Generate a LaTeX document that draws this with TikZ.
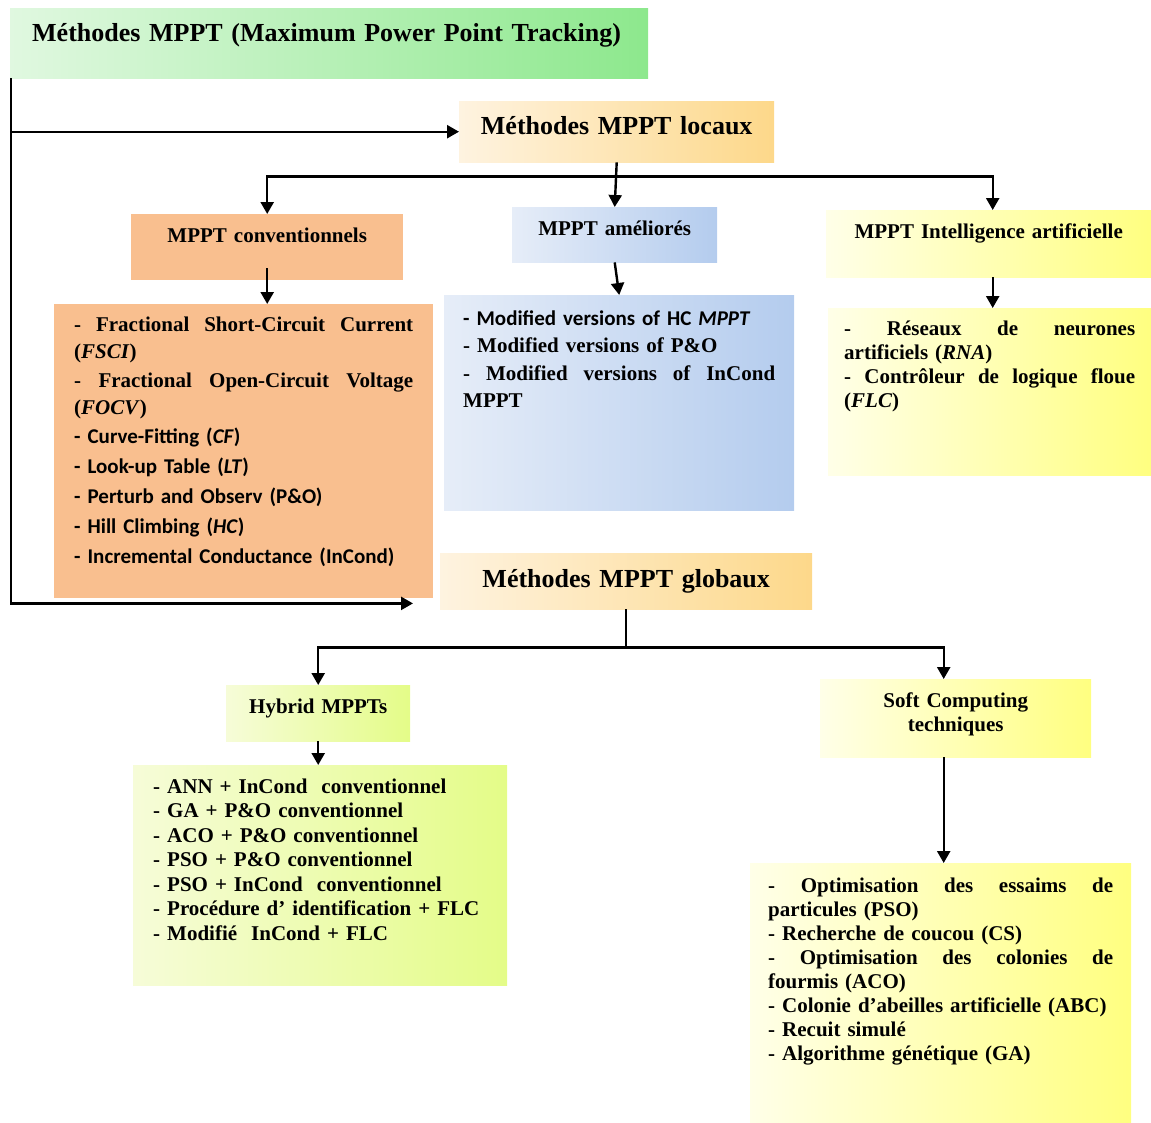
\documentclass[tikz,border=0pt]{standalone}
\usepackage{fontspec}
\setmainfont{Liberation Serif}
\newfontfamily\calfont{Carlito}
\usetikzlibrary{arrows.meta}

\definecolor{gL}{HTML}{E0F8E0}\definecolor{gR}{HTML}{8DE88D}
\definecolor{oL}{HTML}{FEF3E0}\definecolor{oR}{HTML}{FDD88A}
\definecolor{peach}{HTML}{F9BF8F}
\definecolor{bL}{HTML}{E6EDF8}\definecolor{bR}{HTML}{B4CCEE}
\definecolor{yL}{HTML}{FFFFE8}\definecolor{yR}{HTML}{FFFF80}
\definecolor{hL}{HTML}{F6FCD8}\definecolor{hR}{HTML}{E4FC88}

% justified line (spaces stretch to the full text width)
\newcommand\jl[1]{\makebox[\hsize][s]{\spaceskip=0.25em plus 1fil\relax#1}}

\begin{document}
\begin{tikzpicture}[x=1pt,y=-1pt,
  box/.style={anchor=north west,inner ysep=0pt,font=\fontsize{21}{27}\selectfont\bfseries},
  big/.style={font=\fontsize{26}{30}\selectfont\bfseries},
  conn/.style={line width=2.4pt},
  arr/.style={conn,-{Triangle[length=12pt,width=13pt]}}]
\useasboundingbox (0,0) rectangle (1151,1122);

% top level
\node[box,big,left color=gL,right color=gR,text width=594pt,inner xsep=22pt,
  text height=33pt,text depth=37pt,align=left] (title) at (10,8)
  {Méthodes MPPT (Maximum Power Point Tracking)};
\node[box,big,left color=oL,right color=oR,text width=295pt,inner xsep=10pt,
  text height=33pt,text depth=28pt,align=center] (locaux) at (459,101)
  {Méthodes MPPT locaux};
\node[box,big,left color=oL,right color=oR,text width=352pt,inner xsep=10pt,
  text height=34pt,text depth=22pt,align=center] (globaux) at (440,553)
  {Méthodes MPPT globaux};

% local families
\node[box,fill=peach,text width=252pt,inner xsep=10pt,
  text height=28pt,text depth=38pt,align=center] (convh) at (131,214)
  {MPPT conventionnels};
\node[box,left color=bL,right color=bR,text width=189pt,inner xsep=8pt,
  text height=28pt,text depth=27pt,align=center] (amelh) at (512,207)
  {MPPT améliorés};
\node[box,left color=yL,right color=yR,text width=309pt,inner xsep=8pt,
  text height=28pt,text depth=39pt,align=center] (iah) at (826,210)
  {MPPT Intelligence artificielle};

\node[box,fill=peach,text width=339pt,inner xsep=20pt,
  text height=27pt,text depth=267pt,align=left] (convb) at (54,304)
  {\jl{- Fractional Short-Circuit Current}\\
   (\textit{FSCI})\\[2pt]
   \jl{- Fractional Open-Circuit Voltage}\\
   (\textit{FOCV})\\[2pt]
   {\calfont - Curve-Fitting (\textit{CF})}\\[3pt]
   {\calfont - Look-up Table (\textit{LT})}\\[3pt]
   {\calfont - Perturb and Observ (P\&O)}\\[3pt]
   {\calfont - Hill Climbing (\textit{HC})}\\[3pt]
   {\calfont - Incremental Conductance (InCond)}};
\node[box,left color=bL,right color=bR,text width=312pt,inner xsep=19pt,
  text height=30pt,text depth=185pt,align=left] (amelb) at (444,295)
  {{\calfont - Modified versions of HC \textit{MPPT}}\\[0.5pt]
   - Modified versions of P\&O\\[0.5pt]
   \jl{- Modified versions of InCond}\\[0.5pt]
   MPPT};
\node[box,left color=yL,right color=yR,text width=291pt,inner xsep=16pt,
  text height=27pt,text depth=140pt,align=left,
  font=\fontsize{21}{24}\selectfont\bfseries] (iab) at (828,308)
  {\jl{- Réseaux de neurones}\\
   artificiels (\textit{RNA})\\
   \jl{- Contrôleur de logique floue}\\
   (\textit{FLC})};

% global families
\node[box,left color=hL,right color=hR,text width=168pt,inner xsep=8pt,
  text height=28pt,text depth=28pt,align=center] (hybh) at (226,685)
  {Hybrid MPPTs};
\node[box,left color=yL,right color=yR,text width=255pt,inner xsep=8pt,
  text height=28pt,text depth=50pt,align=center,
  font=\fontsize{21}{24}\selectfont\bfseries] (softh) at (820,679)
  {Soft Computing\\techniques};

\node[box,left color=hL,right color=hR,text width=334pt,inner xsep=20pt,
  text height=28pt,text depth=192pt,align=left,
  font=\fontsize{21}{24.5}\selectfont\bfseries] (hybb) at (133,765)
  {- ANN + InCond\ \ conventionnel\\
   - GA + P\&O conventionnel\\
   - ACO + P\&O conventionnel\\
   - PSO + P\&O conventionnel\\
   - PSO + InCond\ \ conventionnel\\
   - Procédure d' identification + FLC\\
   - Modifié\ \ InCond + FLC};
\node[box,left color=yL,right color=yR,text width=345pt,inner xsep=18pt,
  text height=29pt,text depth=230pt,align=left,
  font=\fontsize{21}{24}\selectfont\bfseries] (softb) at (750,863)
  {\jl{- Optimisation des essaims de}\\
   particules (PSO)\\
   - Recherche de coucou (CS)\\
   \jl{- Optimisation des colonies de}\\
   fourmis (ACO)\\
   - Colonie d'abeilles artificielle (ABC)\\
   - Recuit simulé\\
   - Algorithme génétique (GA)};

% connectors
\coordinate (spine) at ([xshift=1pt]title.south west);
\draw[arr] (spine) |- ([shift={(-27pt,6pt)}]globaux.south west);
\draw[arr] (spine |- locaux.west) -- (locaux.west);

\coordinate (fork1) at ([yshift=-14pt]locaux.south);
\draw[arr] (locaux.south) -- (amelh.north);
\draw[arr] (fork1) -| (convh.north);
\draw[arr] (fork1) -| ([xshift=4pt]iah.north);
\draw[arr] ([yshift=12pt]convh.south) -- (convh.south |- convb.north);
\draw[arr] (amelh.south) -- (amelb.north);
\draw[arr] ([xshift=4pt]iah.south) -- ([xshift=4pt]iah.south |- iab.north);

\coordinate (fork2) at ([yshift=-38pt]globaux.south);
\draw[conn] (globaux.south) -- (fork2);
\draw[arr] (fork2) -| (hybh.north);
\draw[arr] (fork2) -| ([xshift=-12pt]softh.north);
\draw[arr] (hybh.south) -- (hybh.south |- hybb.north);
\draw[arr] ([xshift=-12pt]softh.south) -- ([xshift=-12pt]softh.south |- softb.north);

\end{tikzpicture}
\end{document}
